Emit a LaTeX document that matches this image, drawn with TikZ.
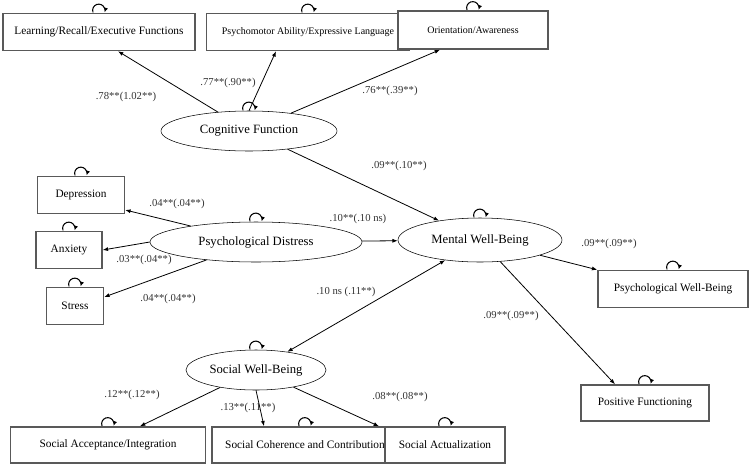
\documentclass[tikz,border=0pt]{standalone}
\usepackage{fontspec}
\setmainfont{Liberation Serif}
\usetikzlibrary{shapes.geometric,arrows.meta}
\begin{document}
\begin{tikzpicture}[x=0.75pt,y=-0.75pt,
  box/.style={draw=black!65,line width=1.1pt,fill=white,font=\fontsize{8.5}{10}\selectfont,inner sep=0pt},
  lat/.style={draw,ellipse,thin,fill=white,font=\fontsize{9.5}{11}\selectfont,inner sep=0pt},
  lbl/.style={font=\fontsize{8}{9}\selectfont,text=black!80},
  arr/.style={-{Latex[length=4pt,width=3pt]},line width=0.6pt},
  darr/.style={{Latex[length=4pt,width=3pt]}-{Latex[length=4pt,width=3pt]},line width=0.6pt},
  lp/.style={-{Latex[length=3.5pt,width=3pt]},line width=0.8pt}]
\useasboundingbox (0,0) rectangle (750,465);
\newcommand\selfloop[1]{\draw[lp] ([xshift=-4.5pt,yshift=0.3pt]#1.north) arc[start angle=200,end angle=-20,radius=4.6pt];}
% indicators
\node[box,minimum width=192*0.75pt,minimum height=37*0.75pt] (lrn) at (99,32) {Learning/Recall/Executive Functions};
\node[box,minimum width=203*0.75pt,minimum height=37*0.75pt,font=\fontsize{7.5}{9}\selectfont] (psy) at (308,32) {Psychomotor Ability/Expressive Language};
\node[box,minimum width=150*0.75pt,minimum height=38*0.75pt,font=\fontsize{7.5}{9}\selectfont] (ori) at (473,30) {Orientation/Awareness};
\node[box,minimum width=87*0.75pt,minimum height=37*0.75pt] (dep) at (81,195) {Depression};
\node[box,minimum width=66*0.75pt,minimum height=37*0.75pt] (anx) at (69,250) {Anxiety};
\node[box,minimum width=57*0.75pt,minimum height=37*0.75pt] (str) at (75,306) {Stress};
\node[box,minimum width=150*0.75pt,minimum height=37*0.75pt] (pwb) at (673,289) {Psychological Well-Being};
\node[box,minimum width=128*0.75pt,minimum height=36*0.75pt] (pf) at (645,403) {Positive Functioning};
\node[box,minimum width=195*0.75pt,minimum height=36*0.75pt] (sai) at (108,445) {Social Acceptance/Integration};
\node[box,minimum width=186*0.75pt,minimum height=36*0.75pt] (scc) at (305,445) {Social Coherence and Contribution};
\node[box,minimum width=120*0.75pt,minimum height=36*0.75pt] (sac) at (445,445) {Social Actualization};
% latents
\node[lat,minimum width=176*0.75pt,minimum height=40*0.75pt] (cog) at (249,131) {Cognitive Function};
\node[lat,minimum width=212*0.75pt,minimum height=40*0.75pt] (pd) at (256,242) {Psychological Distress};
\node[lat,minimum width=164*0.75pt,minimum height=44*0.75pt] (mwb) at (480,240) {Mental Well-Being};
\node[lat,minimum width=140*0.75pt,minimum height=40*0.75pt] (swb) at (256,370) {Social Well-Being};
% loops
\foreach \n in {lrn,psy,ori,dep,anx,str,pwb,pf,sai,scc,sac,cog,pd,mwb,swb}{\selfloop{\n}}
% paths
\draw[arr] (cog) -- (lrn.south -| 118,0);
\draw[arr] (cog.north) -- (psy.south -| 276,0);
\draw[arr] (cog) -- (ori.south -| 440,0);
\draw[arr] (pd) -- (dep.east |- 0,210);
\draw[arr] (pd.west) -- (anx.east);
\draw[arr] (pd) -- (str.east |- 0,297);
\draw[arr] (cog) -- (mwb);
\draw[arr] (pd) -- (mwb);
\draw[darr] (swb) -- (mwb);
\draw[arr] (mwb) -- (pwb.north west);
\draw[arr] (mwb) -- (pf.north -| 615,0);
\draw[arr] (swb) -- (sai.north -| 140,0);
\draw[arr] (swb.south) -- (scc.north -| 264,0);
\draw[arr] (swb) -- (sac.north -| 379,0);
% labels
\node[lbl] (l1) at (126,97) {.78**(1.02**)};
\node[lbl] (l2) at (228,83) {.77**(.90**)};
\node[lbl] (l3) at (390,91) {.76**(.39**)};
\node[lbl] (l4) at (399,166) {.09**(.10**)};
\node[lbl] (l5) at (177,204) {.04**(.04**)};
\node[lbl] (l6) at (358,219) {.10**(.10 ns)};
\node[lbl] (l7) at (144,260) {.03**(.04**)};
\node[lbl] (l8) at (168,299) {.04**(.04**)};
\node[lbl] (l9) at (346,292) {.10 ns (.11**)};
\node[lbl] (l10) at (609,244) {.09**(.09**)};
\node[lbl] (l11) at (511,316) {.09**(.09**)};
\node[lbl] (l12) at (132,395) {.12**(.12**)};
\node[lbl] (l13) at (248,408) {.13**(.11**)};
\node[lbl] (l14) at (400,397) {.08**(.08**)};
\end{tikzpicture}
\end{document}
